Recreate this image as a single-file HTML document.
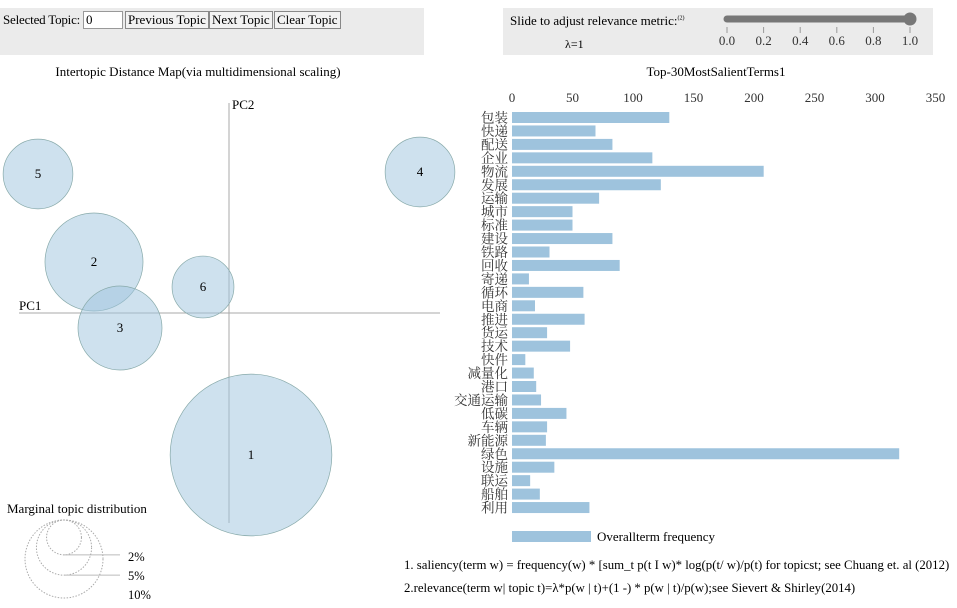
<!DOCTYPE html>
<html><head><meta charset="utf-8"><style>
body{margin:0;width:957px;height:608px;background:#fff;font-family:"Liberation Serif","Noto Serif CJK SC",serif;overflow:hidden;position:relative}
.panel{position:absolute;background:#ebebeb}
button{font-family:"Liberation Serif",serif;font-size:13px;padding:0 2px;height:18px;border:1px solid #888;background:#f2f2f2;position:absolute;top:11px}
</style></head><body>
<div class="panel" style="left:0;top:8px;width:424px;height:47px"></div>
<div style="position:absolute;left:3px;top:12px;font-size:13px;letter-spacing:-0.2px">Selected Topic:</div>
<input value="0" style="position:absolute;left:83px;top:11px;width:34px;height:14px;font-size:13px;font-family:'Liberation Serif',serif;border:1px solid #999;padding:1px 2px">
<button style="left:125px">Previous Topic</button>
<button style="left:209px">Next Topic</button>
<button style="left:274px">Clear Topic</button>
<div class="panel" style="left:503px;top:8px;width:430px;height:47px"></div>
<div style="position:absolute;left:510px;top:13px;font-size:13px">Slide to adjust relevance metric:<sup style="font-size:6px">(2)</sup></div>
<div style="position:absolute;left:565px;top:37px;font-size:12px">λ=1</div>
<svg style="position:absolute;left:0;top:0" width="957" height="608" font-family="Liberation Serif, Noto Serif CJK SC, serif">
<g>
<line x1="727" y1="19" x2="910" y2="19" stroke="#777" stroke-width="7" stroke-linecap="round"/>
<circle cx="910" cy="19" r="6.5" fill="#777"/>
</g>
<g id="sliderTicks" font-size="13" fill="#333"></g>
<text x="198" y="76" font-size="13" text-anchor="middle">Intertopic Distance Map(via multidimensional scaling)</text>
<text x="716" y="76" font-size="13" text-anchor="middle">Top-30MostSalientTerms1</text>
<line x1="19" y1="313" x2="440" y2="313" stroke="#aaa"/>
<line x1="229" y1="103" x2="229" y2="523" stroke="#aaa"/>
<text x="19" y="310" font-size="13">PC1</text>
<text x="232" y="109" font-size="13">PC2</text>
<g id="topics"></g>
<text x="7" y="513" font-size="13">Marginal topic distribution</text>
<g id="marginal"></g>
<g id="xticks" font-size="13" fill="#333"></g>
<g id="bars"></g>
<rect x="512" y="531" width="79" height="11" fill="#9ec3dd"/>
<text x="597" y="541" font-size="13">Overallterm frequency</text>
<text x="404" y="569" font-size="12.8">1. saliency(term w) = frequency(w) * [sum_t p(t I w)* log(p(t/ w)/p(t) for topicst; see Chuang et. al (2012)</text>
<text x="404" y="592" font-size="12.8">2.relevance(term w| topic t)=λ*p(w | t)+(1 -) * p(w | t)/p(w);see Sievert &amp; Shirley(2014)</text>
</svg>
<script>
const sliderTicks=["0.0","0.2","0.4","0.6","0.8","1.0"];
const topicIds=[1,2,3,4,5,6];
const topicPC1=[0.22,-1.35,-1.09,1.91,-1.91,-0.26];
const topicPC2=[-1.42,0.51,-0.15,1.41,1.39,0.26];
const topicPct=[43,15.8,11.6,8,8,6.3];
const marginalPct=[2,5,10];
const terms=["包装","快递","配送","企业","物流","发展","运输","城市","标准","建设","铁路","回收","寄递","循环","电商","推进","货运","技术","快件","减量化","港口","交通运输","低碳","车辆","新能源","绿色","设施","联运","船舶","利用"];
const freqs=[130,69,83,116,208,123,72,50,50,83,31,89,14,59,19,60,29,48,11,18,20,24,45,29,28,320,35,15,23,64];
const xTicks=[0,50,100,150,200,250,300,350];
const NS="http://www.w3.org/2000/svg";
function mk(t,a,p){const e=document.createElementNS(NS,t);for(const k in a)e.setAttribute(k,a[k]);p.appendChild(e);return e;}
const sx=v=>512+v*1.21;
const mx=v=>229+v*100, my=v=>313-v*100, rr=p=>Math.sqrt(p)*12.33;
const st=document.getElementById('sliderTicks');
sliderTicks.forEach((t,i)=>{const x=727+i*36.6;
 const l=mk('line',{x1:x,y1:27,x2:x,y2:33,stroke:'#999'},st);
 
 
 const e=mk('text',{x:x,y:45,'text-anchor':'middle'},st);e.textContent=t;
 
 });
const tg=document.getElementById('topics');
topicIds.forEach((id,i)=>{
 const c=mk('circle',{cx:mx(topicPC1[i]),cy:my(topicPC2[i]),r:rr(topicPct[i]),fill:'#9ec3dd','fill-opacity':0.5,stroke:'#8aa',"stroke-width":0.7},tg);
 
 
 const t=mk('text',{x:mx(topicPC1[i]),y:my(topicPC2[i])+4,'text-anchor':'middle','font-size':13},tg);t.textContent=id;
 
 });
const mg=document.getElementById('marginal');
marginalPct.forEach((p,i)=>{const r=rr(p),cy=520+r;
 const c=mk('circle',{cx:64,cy:cy,r:r,fill:'none',stroke:'#aaa','stroke-dasharray':'1.5 1.5'},mg);
 
 
 if(i<2){const l=mk('line',{x1:64,y1:cy+r,x2:120,y2:cy+r,stroke:'#bbb'},mg);
  
  }
 const t=mk('text',{x:128,y:[561,580,599][i],'font-size':12.5},mg);t.textContent=p+'%';
 
 });
const xg=document.getElementById('xticks');
xTicks.forEach(v=>{const t=mk('text',{x:sx(v),y:102,'text-anchor':'middle'},xg);t.textContent=v;
 
 });
const bg=document.getElementById('bars');
terms.forEach((w,i)=>{const y=112+i*13.45;
 const r=mk('rect',{x:512,y:y,width:freqs[i]*1.21,height:11,fill:'#9ec3dd'},bg);
 
 
 const t=mk('text',{x:508,y:y+10.5,'text-anchor':'end','font-size':13.5,fill:'#333'},bg);t.textContent=w;
 
 });
</script>
</body></html>
